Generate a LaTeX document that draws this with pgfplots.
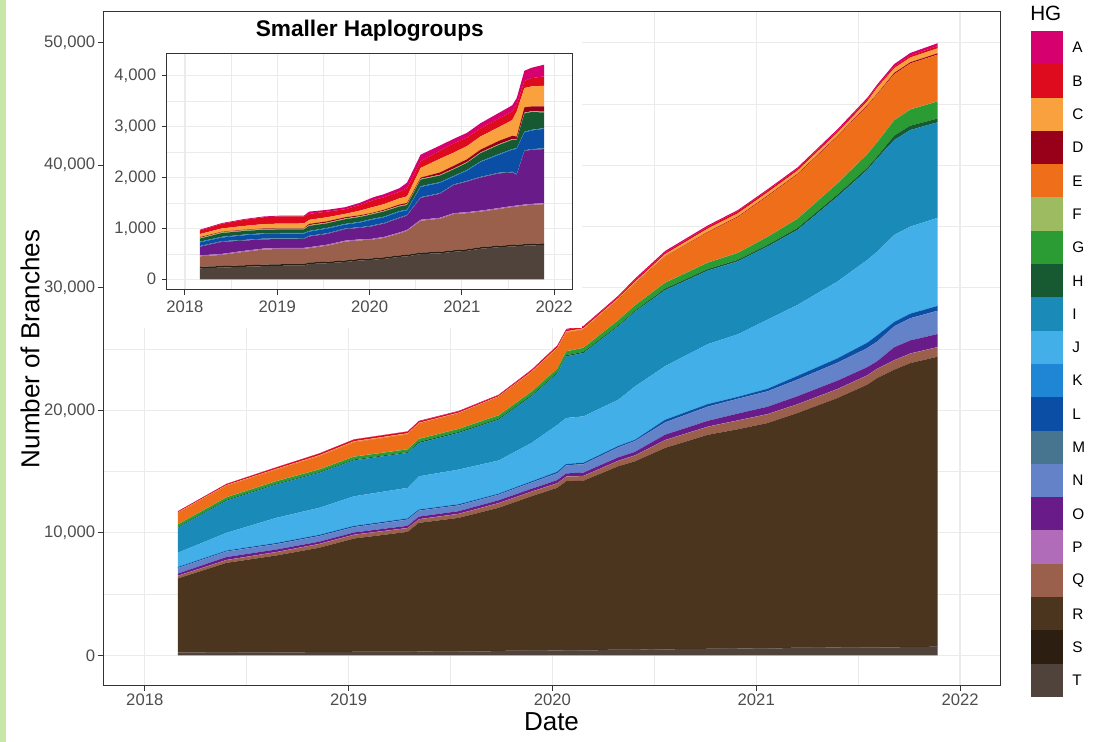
\documentclass[border=0pt]{standalone}
\usepackage{fontspec}
\setmainfont{Liberation Sans}
\usepackage{pgfplots}
\usepackage{pgfplotstable}
\pgfplotsset{compat=1.18}

\definecolor{hgA}{HTML}{D6006F}
\definecolor{hgB}{HTML}{DE0A1E}
\definecolor{hgC}{HTML}{F9A03F}
\definecolor{hgD}{HTML}{98001A}
\definecolor{hgE}{HTML}{EE6E1A}
\definecolor{hgF}{HTML}{9DBB61}
\definecolor{hgG}{HTML}{2B9B33}
\definecolor{hgH}{HTML}{175A31}
\definecolor{hgI}{HTML}{1A8BB8}
\definecolor{hgJ}{HTML}{43AFE9}
\definecolor{hgK}{HTML}{1F86D6}
\definecolor{hgL}{HTML}{0A4EA6}
\definecolor{hgM}{HTML}{47758F}
\definecolor{hgN}{HTML}{6382C7}
\definecolor{hgO}{HTML}{6A1B8A}
\definecolor{hgP}{HTML}{B06CB8}
\definecolor{hgQ}{HTML}{9A604C}
\definecolor{hgR}{HTML}{4B351F}
\definecolor{hgS}{HTML}{2C1F12}
\definecolor{hgT}{HTML}{4F433B}
\definecolor{gridc}{HTML}{EBEBEB}
\definecolor{gray20c}{HTML}{333333}
\definecolor{gray30c}{HTML}{4D4D4D}
\definecolor{leftgreen}{HTML}{C8E6A8}

\pgfplotstableread{
x T S R Q P O N M L K J I H G F E D C B A
2018.162 215 30 6030 205 20 170 450 15 70 15 1150 2040 60 210 15 905 15 60 70 15
2018.401 230 30 7290 219 20 236 440 15 70 15 1435 2620 75 200 15 910 10 65 90 15
2018.645 245 30 7875 265 20 200 430 15 90 15 2035 2720 70 200 15 905 10 75 120 15
2018.856 258 30 8492 297 20 180 450 15 90 15 2193 2850 70 210 15 1050 10 85 135 15
2019.027 265 30 9240 300 20 175 430 15 90 15 2400 2940 70 220 15 1150 10 90 139 16
2019.290 270 30 9780 298 20 174 500 15 90 15 2478 2850 70 220 15 1200 10 90 138 17
2019.345 300 30 10485 280 20 210 480 15 81 15 2694 2720 99 230 15 1200 24 79 118 44
2019.540 315 30 10875 315 20 210 460 15 90 15 2815 2990 90 240 15 1205 25 80 110 35
2019.736 340 30 11670 370 20 224 450 15 75 15 2691 3330 92 260 15 1452 24 66 92 39
2019.897 370 30 12580 365 20 225 500 15 90 15 3120 3800 95 280 15 1525 20 90 110 45
2020.024 380 30 13260 364 20 246 550 15 115 15 3805 4200 90 300 15 1585 15 110 130 55
2020.068 390 30 13790 370 20 250 650 15 110 15 3730 5030 95 310 15 1500 15 110 135 58
2020.152 400 30 13820 380 20 260 680 15 110 15 3770 5170 100 320 15 1450 20 110 135 60
2020.323 440 30 14960 430 20 280 800 15 110 15 3760 5990 90 400 15 1650 25 120 130 70
2020.406 450 30 15360 470 20 280 880 15 90 15 4340 6100 90 430 15 1750 25 130 160 110
2020.553 495 30 16405 625 20 430 1000 15 200 15 4365 6200 130 470 15 2110 25 190 130 130
2020.763 510 30 17460 650 20 470 1150 15 200 15 4880 6000 130 520 15 2450 45 270 160 100
2020.910 540 30 17880 710 20 550 1200 15 150 15 5090 5950 130 560 15 2900 55 260 180 90
2021.056 560 30 18370 710 20 600 1250 15 200 15 5630 5960 140 650 15 3300 55 260 170 90
2021.203 600 30 19150 700 20 650 1350 15 290 15 5780 6120 160 750 15 3600 55 260 160 100
2021.399 630 30 20340 720 20 680 1450 15 350 15 6260 6920 180 900 15 3800 65 270 170 110
2021.545 645 30 21415 745 20 660 1550 15 430 15 6745 7340 180 1100 15 3930 65 310 170 120
2021.594 650 30 21950 750 20 604 1600 15 495 15 6821 7610 164 1150 15 3900 50 493 131 131
2021.677 660 30 22620 760 20 1050 1700 15 350 15 7090 7740 360 1250 15 3750 105 380 140 200
2021.756 665 30 23155 768 20 1063 1800 15 364 15 7095 7880 350 1320 15 3750 94 394 164 203
2021.890 676 30 23664 770 20 1063 1890 15 383 15 7174 7800 308 1390 15 3813 104 407 184 229
}\hgdata

\pgfplotsset{
  ggbase/.style={
    scale only axis,
    stack plots=y,
    scaled ticks=false,
    tick pos=left,
    tick align=outside,
    major tick length=3.75pt,
    minor tick length=0pt,
    every tick/.style={draw=gray20c, line width=0.75pt},
    axis line style={draw=gray20c, line width=0.75pt},
    grid=both,
    major grid style={draw=gridc, line width=0.9pt},
    minor grid style={draw=gridc, line width=0.45pt},
    tick label style={font=\fontsize{12.5}{15}\selectfont, text=gray30c},
    xticklabel style={inner sep=2pt},
    yticklabel style={inner sep=2pt},
    xtick={2018,2019,2020,2021,2022},
    xticklabels={2018,2019,2020,2021,2022},
    minor xtick={2018.5,2019.5,2020.5,2021.5},
  },
  lay/.style={fill=#1, draw=none},
}

\begin{document}
\begin{tikzpicture}
\useasboundingbox (0,0) rectangle (822.75pt,556.5pt);
\fill[leftgreen] (0,0) rectangle (4.5pt,556.5pt);

\begin{axis}[
  ggbase,
  at={(77.25pt,42pt)}, anchor=south west,
  width=672.75pt, height=505.5pt,
  xmin=2017.795, xmax=2022.196, ymin=-2500, ymax=52500,
  ytick={0,10000,20000,30000,40000,50000},
  yticklabels={0,{10,000},{20,000},{30,000},{40,000},{50,000}},
  minor ytick={5000,15000,25000,35000,45000},
  xlabel={Date}, ylabel={Number of Branches},
  label style={font=\fontsize{19.5}{23}\selectfont, text=black},
  xlabel style={at={(axis description cs:0.5,-0.0534)}, anchor=center},
  ylabel style={at={(axis description cs:-0.0814,0.5)}, anchor=center},
]
\addplot[lay=hgT] table[x=x,y=T]{\hgdata} \closedcycle;
\addplot[lay=hgS] table[x=x,y=S]{\hgdata} \closedcycle;
\addplot[lay=hgR] table[x=x,y=R]{\hgdata} \closedcycle;
\addplot[lay=hgQ] table[x=x,y=Q]{\hgdata} \closedcycle;
\addplot[lay=hgP] table[x=x,y=P]{\hgdata} \closedcycle;
\addplot[lay=hgO] table[x=x,y=O]{\hgdata} \closedcycle;
\addplot[lay=hgN] table[x=x,y=N]{\hgdata} \closedcycle;
\addplot[lay=hgM] table[x=x,y=M]{\hgdata} \closedcycle;
\addplot[lay=hgL] table[x=x,y=L]{\hgdata} \closedcycle;
\addplot[lay=hgK] table[x=x,y=K]{\hgdata} \closedcycle;
\addplot[lay=hgJ] table[x=x,y=J]{\hgdata} \closedcycle;
\addplot[lay=hgI] table[x=x,y=I]{\hgdata} \closedcycle;
\addplot[lay=hgH] table[x=x,y=H]{\hgdata} \closedcycle;
\addplot[lay=hgG] table[x=x,y=G]{\hgdata} \closedcycle;
\addplot[lay=hgF] table[x=x,y=F]{\hgdata} \closedcycle;
\addplot[lay=hgE] table[x=x,y=E]{\hgdata} \closedcycle;
\addplot[lay=hgD] table[x=x,y=D]{\hgdata} \closedcycle;
\addplot[lay=hgC] table[x=x,y=C]{\hgdata} \closedcycle;
\addplot[lay=hgB] table[x=x,y=B]{\hgdata} \closedcycle;
\addplot[lay=hgA] table[x=x,y=A]{\hgdata} \closedcycle;
\end{axis}

\fill[white] (78pt,310.5pt) rectangle (436.5pt,547.5pt);

\begin{axis}[
  ggbase,
  at={(125pt,339pt)}, anchor=south west,
  width=304.7pt, height=177pt,
  xmin=2017.802, xmax=2022.203, ymin=-211, ymax=4430,
  ytick={0,1000,2000,3000,4000},
  yticklabels={0,{1,000},{2,000},{3,000},{4,000}},
  minor ytick={500,1500,2500,3500},
  xticklabel style={yshift=-2.5pt},
  yticklabel style={xshift=-2pt},
  title={Smaller Haplogroups},
  title style={font=\bfseries\fontsize{17}{20}\selectfont, at={(0.5,1)}, anchor=center, yshift=11.25pt},
]
\addplot[lay=hgT] table[x=x,y=T]{\hgdata} \closedcycle;
\addplot[lay=hgS] table[x=x,y=S]{\hgdata} \closedcycle;
\addplot[lay=hgQ] table[x=x,y=Q]{\hgdata} \closedcycle;
\addplot[lay=hgP] table[x=x,y=P]{\hgdata} \closedcycle;
\addplot[lay=hgO] table[x=x,y=O]{\hgdata} \closedcycle;
\addplot[lay=hgM] table[x=x,y=M]{\hgdata} \closedcycle;
\addplot[lay=hgL] table[x=x,y=L]{\hgdata} \closedcycle;
\addplot[lay=hgK] table[x=x,y=K]{\hgdata} \closedcycle;
\addplot[lay=hgH] table[x=x,y=H]{\hgdata} \closedcycle;
\addplot[lay=hgF] table[x=x,y=F]{\hgdata} \closedcycle;
\addplot[lay=hgD] table[x=x,y=D]{\hgdata} \closedcycle;
\addplot[lay=hgC] table[x=x,y=C]{\hgdata} \closedcycle;
\addplot[lay=hgB] table[x=x,y=B]{\hgdata} \closedcycle;
\addplot[lay=hgA] table[x=x,y=A]{\hgdata} \closedcycle;
\end{axis}

% legend
\node[anchor=west, font=\fontsize{15.5}{18}\selectfont, inner sep=0pt] at (772.5pt,546.75pt) {HG};
\foreach \lab [count=\i from 0] in {A,B,C,D,E,F,G,H,I,J,K,L,M,N,O,P,Q,R,S,T}{
  \fill[hg\lab] (773.25pt,{(711-33.3*\i)*0.75pt}) rectangle (797.25pt,{(677.7-33.3*\i)*0.75pt});
  \node[anchor=west, font=\fontsize{11.5}{14}\selectfont, inner sep=0pt] at (804pt,{(694.35-33.3*\i)*0.75pt}) {\lab};
}
\end{tikzpicture}
\end{document}
